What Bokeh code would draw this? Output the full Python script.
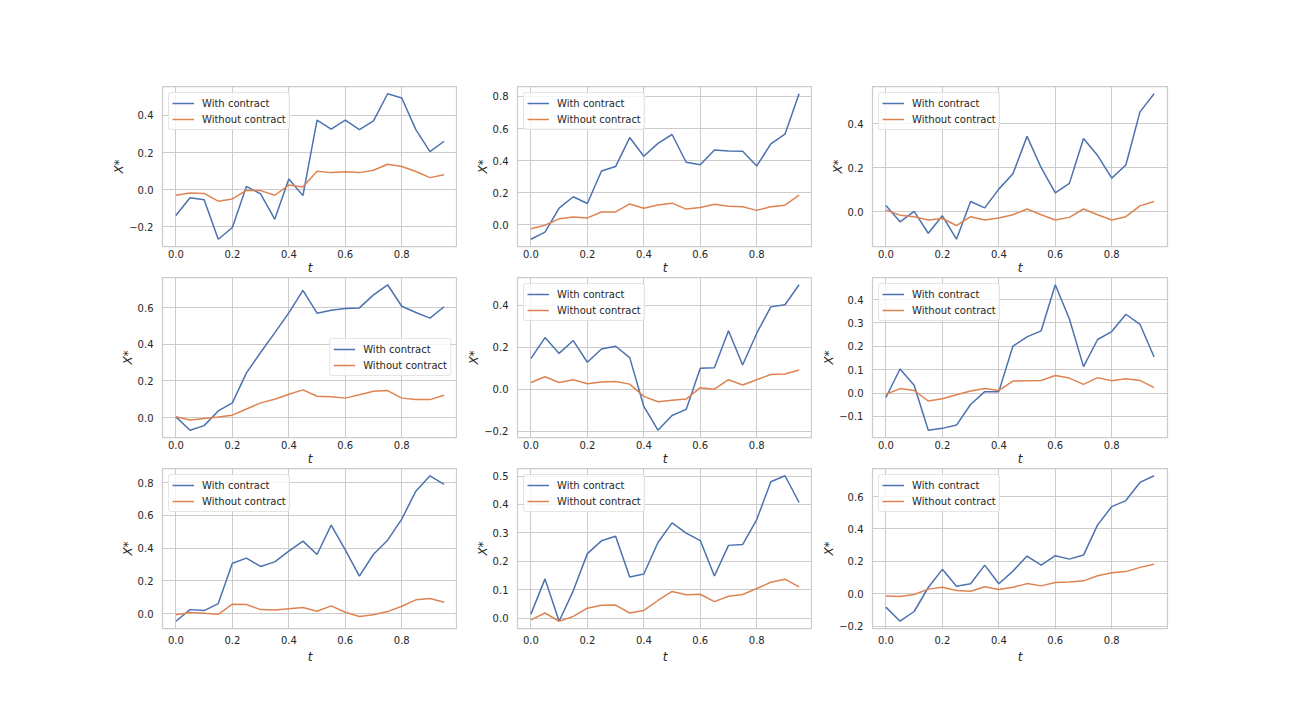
from bokeh.plotting import figure
from bokeh.layouts import gridplot
from bokeh.models import FixedTicker, CustomJSTickFormatter, DataRange1d
from bokeh.embed import file_html
from bokeh.resources import INLINE

t = [0.0, 0.05, 0.1, 0.15, 0.2, 0.25, 0.3, 0.35, 0.4, 0.45,
     0.5, 0.55, 0.6, 0.65, 0.7, 0.75, 0.8, 0.85, 0.9, 0.95]
x_ticks = [0.0, 0.2, 0.4, 0.6, 0.8]

with_1 = [-0.139, -0.043, -0.054, -0.267, -0.204, 0.018, -0.023, -0.159, 0.058, -0.032,
          0.375, 0.326, 0.375, 0.324, 0.371, 0.517, 0.494, 0.324, 0.205, 0.261]
without_1 = [-0.030, -0.018, -0.020, -0.062, -0.050, -0.003, -0.005, -0.030, 0.025, 0.015,
             0.100, 0.092, 0.097, 0.092, 0.105, 0.137, 0.125, 0.098, 0.065, 0.080]
ticks_1 = [-0.2, 0.0, 0.2, 0.4]

with_2 = [-0.090, -0.046, 0.104, 0.175, 0.133, 0.335, 0.363, 0.544, 0.427, 0.508,
          0.563, 0.390, 0.375, 0.467, 0.460, 0.458, 0.367, 0.504, 0.565, 0.817]
without_2 = [-0.025, -0.003, 0.037, 0.048, 0.043, 0.080, 0.080, 0.130, 0.103, 0.123,
             0.135, 0.098, 0.108, 0.128, 0.115, 0.113, 0.090, 0.113, 0.122, 0.185]
ticks_2 = [0.0, 0.2, 0.4, 0.6, 0.8]

with_3 = [0.029, -0.045, 0.002, -0.097, -0.018, -0.124, 0.047, 0.018, 0.103, 0.173,
          0.342, 0.200, 0.086, 0.129, 0.332, 0.255, 0.153, 0.212, 0.453, 0.535]
without_3 = [0.008, -0.015, -0.022, -0.037, -0.030, -0.062, -0.022, -0.037, -0.028, -0.013,
             0.013, -0.013, -0.037, -0.025, 0.013, -0.013, -0.037, -0.022, 0.027, 0.047]
ticks_3 = [0.0, 0.2, 0.4]

with_4 = [0.004, -0.069, -0.044, 0.036, 0.080, 0.244, 0.355, 0.462, 0.571, 0.693,
          0.569, 0.585, 0.595, 0.598, 0.669, 0.724, 0.607, 0.573, 0.542, 0.604]
without_4 = [0.004, -0.013, -0.005, 0.003, 0.013, 0.047, 0.080, 0.100, 0.127, 0.151,
             0.116, 0.114, 0.106, 0.124, 0.144, 0.147, 0.106, 0.098, 0.098, 0.122]
ticks_4 = [0.0, 0.2, 0.4, 0.6]

with_5 = [0.146, 0.246, 0.171, 0.232, 0.129, 0.192, 0.205, 0.151, -0.081, -0.194,
          -0.124, -0.095, 0.100, 0.103, 0.279, 0.116, 0.267, 0.392, 0.402, 0.497]
without_5 = [0.033, 0.060, 0.033, 0.046, 0.027, 0.035, 0.037, 0.025, -0.033, -0.059,
             -0.052, -0.046, 0.008, 0.001, 0.046, 0.021, 0.046, 0.071, 0.073, 0.092]
ticks_5 = [-0.2, 0.0, 0.2, 0.4]

with_6 = [-0.019, 0.103, 0.033, -0.159, -0.151, -0.137, -0.049, 0.006, 0.006, 0.201,
          0.240, 0.266, 0.463, 0.317, 0.113, 0.229, 0.263, 0.337, 0.294, 0.154]
without_6 = [-0.005, 0.019, 0.011, -0.034, -0.024, -0.007, 0.009, 0.019, 0.011, 0.051,
             0.053, 0.054, 0.075, 0.064, 0.037, 0.066, 0.053, 0.061, 0.054, 0.023]
ticks_6 = [-0.1, 0.0, 0.1, 0.2, 0.3, 0.4]

with_7 = [-0.047, 0.024, 0.018, 0.061, 0.308, 0.339, 0.288, 0.316, 0.382, 0.443,
          0.361, 0.541, 0.390, 0.229, 0.363, 0.449, 0.578, 0.749, 0.843, 0.790]
without_7 = [-0.008, 0.006, 0.002, -0.005, 0.057, 0.055, 0.024, 0.022, 0.030, 0.037,
             0.014, 0.047, 0.008, -0.018, -0.008, 0.012, 0.045, 0.084, 0.092, 0.069]
ticks_7 = [0.0, 0.2, 0.4, 0.6, 0.8]

with_8 = [0.014, 0.138, -0.011, 0.096, 0.227, 0.272, 0.288, 0.145, 0.155, 0.266,
          0.335, 0.299, 0.273, 0.148, 0.256, 0.259, 0.347, 0.480, 0.501, 0.407]
without_8 = [-0.006, 0.018, -0.011, 0.006, 0.035, 0.045, 0.046, 0.018, 0.027, 0.062,
             0.094, 0.082, 0.084, 0.058, 0.077, 0.083, 0.104, 0.126, 0.137, 0.110]
ticks_8 = [0.0, 0.1, 0.2, 0.3, 0.4, 0.5]

with_9 = [-0.082, -0.169, -0.109, 0.039, 0.151, 0.047, 0.062, 0.177, 0.062, 0.140,
          0.233, 0.177, 0.235, 0.214, 0.239, 0.425, 0.538, 0.575, 0.687, 0.728]
without_9 = [-0.014, -0.016, -0.004, 0.029, 0.040, 0.020, 0.016, 0.044, 0.027, 0.041,
             0.063, 0.049, 0.070, 0.073, 0.080, 0.111, 0.130, 0.137, 0.163, 0.182]
ticks_9 = [-0.2, 0.0, 0.2, 0.4, 0.6]

panels = [
    (with_1, without_1, ticks_1, "top_left"),
    (with_2, without_2, ticks_2, "top_left"),
    (with_3, without_3, ticks_3, "top_left"),
    (with_4, without_4, ticks_4, "right"),
    (with_5, without_5, ticks_5, "top_left"),
    (with_6, without_6, ticks_6, "top_left"),
    (with_7, without_7, ticks_7, "top_left"),
    (with_8, without_8, ticks_8, "top_left"),
    (with_9, without_9, ticks_9, "top_left"),
]

BLUE = "#4c72b0"
ORANGE = "#dd8452"
TEXT = "#262626"
GRID = "#cccccc"
FONT = "DejaVu Sans"

fmt_code = """
var v = Math.abs(tick) < 1e-9 ? 0 : tick;
return v.toFixed(1).replace('-', '\u2212');
"""

figs = []
for i, (yw, yo, yt, loc) in enumerate(panels):
    r, c = divmod(i, 3)
    p = figure(
        frame_width=295, frame_height=160,
        output_backend="svg", toolbar_location=None,
        x_range=DataRange1d(range_padding=0.1),
        y_range=DataRange1d(range_padding=0.1),
        min_border_left=162 if c == 0 else 60,
        min_border_right=10 if c == 2 else 0,
        min_border_top=86 if r == 0 else 0,
        min_border_bottom=30 if r < 2 else 40,
        background_fill_color="white",
        border_fill_color="white",
    )
    p.outline_line_color = GRID
    p.outline_line_width = 1.25
    p.line(t, yw, line_color=BLUE, line_width=1.5, legend_label="With contract")
    p.line(t, yo, line_color=ORANGE, line_width=1.5, legend_label="Without contract")

    p.xaxis.ticker = FixedTicker(ticks=x_ticks)
    p.yaxis.ticker = FixedTicker(ticks=yt)
    for ax in (p.xaxis[0], p.yaxis[0]):
        ax.formatter = CustomJSTickFormatter(code=fmt_code)
        ax.axis_line_color = None
        ax.major_tick_line_color = None
        ax.minor_tick_line_color = None
        ax.major_tick_out = 0
        ax.major_tick_in = 0
        ax.major_label_text_font = FONT
        ax.major_label_text_font_size = "10px"
        ax.major_label_text_color = TEXT
        ax.axis_label_text_font = FONT
        ax.axis_label_text_font_size = "12px"
        ax.axis_label_text_font_style = "italic"
        ax.axis_label_text_color = TEXT
    p.xaxis.axis_label = "t"
    p.yaxis.axis_label = "X*"
    p.yaxis.major_label_standoff = 9
    p.yaxis.axis_label_standoff = 0
    if r < 2:
        p.xaxis.major_label_standoff = 3
        p.xaxis.axis_label_standoff = 0
    else:
        p.xaxis.major_label_standoff = 7
        p.xaxis.axis_label_standoff = 3

    p.xgrid.grid_line_color = GRID
    p.ygrid.grid_line_color = GRID
    p.xgrid.grid_line_width = 1
    p.ygrid.grid_line_width = 1

    lg = p.legend[0]
    lg.location = loc
    lg.margin = 6
    lg.padding = 3
    lg.spacing = 2
    lg.label_height = 14
    lg.glyph_height = 14
    lg.glyph_width = 22
    lg.label_standoff = 8
    lg.label_text_font = FONT
    lg.label_text_font_size = "10px"
    lg.label_text_color = TEXT
    lg.border_line_color = GRID
    lg.border_line_width = 1
    lg.background_fill_color = "white"
    lg.background_fill_alpha = 0.8
    lg.border_radius = 3
    figs.append(p)

grid = gridplot([figs[0:3], figs[3:6], figs[6:9]], toolbar_location=None)

open("out.html", "w").write(file_html(grid, INLINE))
